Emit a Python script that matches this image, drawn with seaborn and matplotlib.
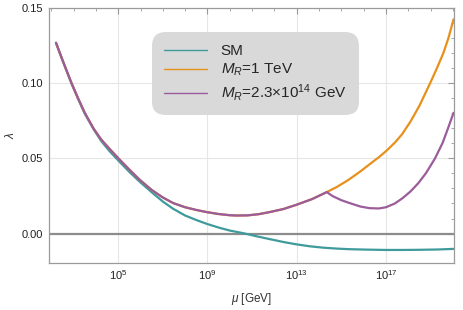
import numpy as np
import pandas as pd
import matplotlib
matplotlib.use("Agg")
import matplotlib.pyplot as plt
import matplotlib.ticker as mticker
import seaborn as sns

# ---- data (log10 of mu in GeV, lambda) ----
common_log = [2.21, 2.50, 2.90, 3.20, 3.50, 3.90, 4.24, 4.60, 4.99, 5.50, 5.96, 6.50, 7.00,
              7.46, 8.00, 8.50, 8.96, 9.50, 10.00, 10.30, 10.80, 11.30, 11.79, 12.40, 12.98,
              13.70, 14.35]
common_lam = [0.1269, 0.1155, 0.1003, 0.0900, 0.0803, 0.0697, 0.0625, 0.0565, 0.0503, 0.0425,
              0.0358, 0.0290, 0.0240, 0.0203, 0.0175, 0.0157, 0.0143, 0.0130, 0.0122, 0.0120,
              0.0121, 0.0129, 0.0143, 0.0163, 0.0191, 0.0230, 0.0276]

tev_log = [14.80, 15.30, 15.85, 16.26, 16.70, 17.04, 17.40, 17.72, 18.10, 18.50, 18.99,
           19.30, 19.58, 19.80, 20.03]
tev_lam = [0.0310, 0.0355, 0.0413, 0.0460, 0.0510, 0.0553, 0.0605, 0.0660, 0.0745, 0.0850,
           0.1003, 0.1105, 0.1203, 0.1300, 0.1425]

mr14_log = [14.60, 15.00, 15.37, 15.85, 16.26, 16.69, 17.00, 17.40, 17.75, 18.10, 18.45,
            18.80, 19.20, 19.54, 19.77, 20.03]
mr14_lam = [0.0250, 0.0222, 0.0203, 0.0180, 0.0169, 0.0167, 0.0175, 0.0200, 0.0236, 0.0280,
            0.0335, 0.0403, 0.0500, 0.0603, 0.0695, 0.0803]

sm_log = [2.21, 2.50, 2.90, 3.20, 3.50, 3.90, 4.24, 4.60, 4.99, 5.50, 5.96, 6.50, 7.00, 7.46,
          8.00, 8.50, 8.96, 9.50, 10.00, 10.59, 11.20, 11.79, 12.40, 12.96, 13.60, 14.20,
          14.80, 15.37, 16.20, 17.00, 17.80, 18.50, 19.30, 20.03]
sm_lam = [0.1269, 0.1153, 0.1000, 0.0896, 0.0798, 0.0693, 0.0615, 0.0550, 0.0488, 0.0410,
          0.0345, 0.0275, 0.0213, 0.0165, 0.0120, 0.0090, 0.0065, 0.0040, 0.0020, 0.0003,
          -0.0018, -0.0037, -0.0056, -0.0071, -0.0085, -0.0094, -0.0100, -0.0104, -0.0107,
          -0.0109, -0.0109, -0.0108, -0.0106, -0.0102]

labels = ["SM", "$M_R$=1 TeV", "$M_R$=2.3×10$^{14}$ GeV"]
colors = ["#3f9b9b", "#e8901c", "#9b5c9b"]

x_major = [5, 9, 13, 17]
x_minor = list(range(2, 21))
y_major = [0.00, 0.05, 0.10, 0.15]

rows = []
for lg, lm in zip(sm_log, sm_lam):
    rows.append((labels[0], 10 ** lg, lm))
for lg, lm in zip(common_log + tev_log, common_lam + tev_lam):
    rows.append((labels[1], 10 ** lg, lm))
for lg, lm in zip(common_log + mr14_log, common_lam + mr14_lam):
    rows.append((labels[2], 10 ** lg, lm))
df = pd.DataFrame(rows, columns=["series", "mu", "lam"])

sns.set_theme(style="white")
plt.rcParams["font.family"] = ["Liberation Sans", "DejaVu Sans"]
plt.rcParams["mathtext.fontset"] = "custom"
plt.rcParams["mathtext.it"] = "Liberation Sans:italic"
plt.rcParams["mathtext.rm"] = "Liberation Sans"

fig = plt.figure(figsize=(4.63, 3.10), dpi=100)
ax = fig.add_axes([0.105, 0.152, 0.876, 0.822])

# grid lines
for v in x_major:
    ax.axvline(10 ** v, color="#e6e6e6", lw=0.8, zorder=0)
for v in [0.05, 0.10]:
    ax.axhline(v, color="#e6e6e6", lw=0.8, zorder=0)
ax.axhline(0.0, color="#8c8c8c", lw=1.6, zorder=1)

sns.lineplot(data=df, x="mu", y="lam", hue="series", hue_order=labels,
             palette=colors, linewidth=1.6, sort=False, ax=ax, zorder=3)

ax.set_xscale("log")
ax.set_xlim(10 ** 1.88, 10 ** 20.06)
ax.set_ylim(-0.0195, 0.150)

ax.xaxis.set_major_locator(mticker.FixedLocator([10.0 ** v for v in x_major]))
ax.xaxis.set_minor_locator(mticker.FixedLocator([10.0 ** v for v in x_minor]))
ax.xaxis.set_major_formatter(mticker.LogFormatterSciNotation())
ax.xaxis.set_minor_formatter(mticker.NullFormatter())
ax.yaxis.set_major_locator(mticker.FixedLocator(y_major))
ax.yaxis.set_minor_locator(mticker.MultipleLocator(0.01))
ax.yaxis.set_major_formatter(mticker.FormatStrFormatter("%.2f"))

for s in ax.spines.values():
    s.set_color("#9a9a9a")
    s.set_linewidth(0.9)
ax.tick_params(which="both", direction="in", top=True, right=True, color="#9a9a9a",
               labelsize=8, labelcolor="#222222")
ax.tick_params(which="major", length=4, width=0.8, pad=4)
ax.tick_params(which="minor", length=2.5, width=0.6)

ax.set_xlabel("$\\mu$ [GeV]", fontsize=8.5, color="#333333", labelpad=6)
ax.set_ylabel("$\\lambda$", fontsize=8.5, color="#333333", labelpad=3)

leg = ax.legend(loc="upper left", bbox_to_anchor=(0.262, 0.894), borderaxespad=0,
                fontsize=11, frameon=True, fancybox=True, facecolor="#d9d9d9",
                edgecolor="none", framealpha=1.0, handlelength=2.8,
                handletextpad=0.9, labelspacing=0.25, borderpad=0.6, title=None)
for h in leg.get_lines():
    h.set_linewidth(1.0)
leg.get_frame().set_boxstyle("round,pad=0.2,rounding_size=0.9")

fig.savefig("out.png", dpi=100)
